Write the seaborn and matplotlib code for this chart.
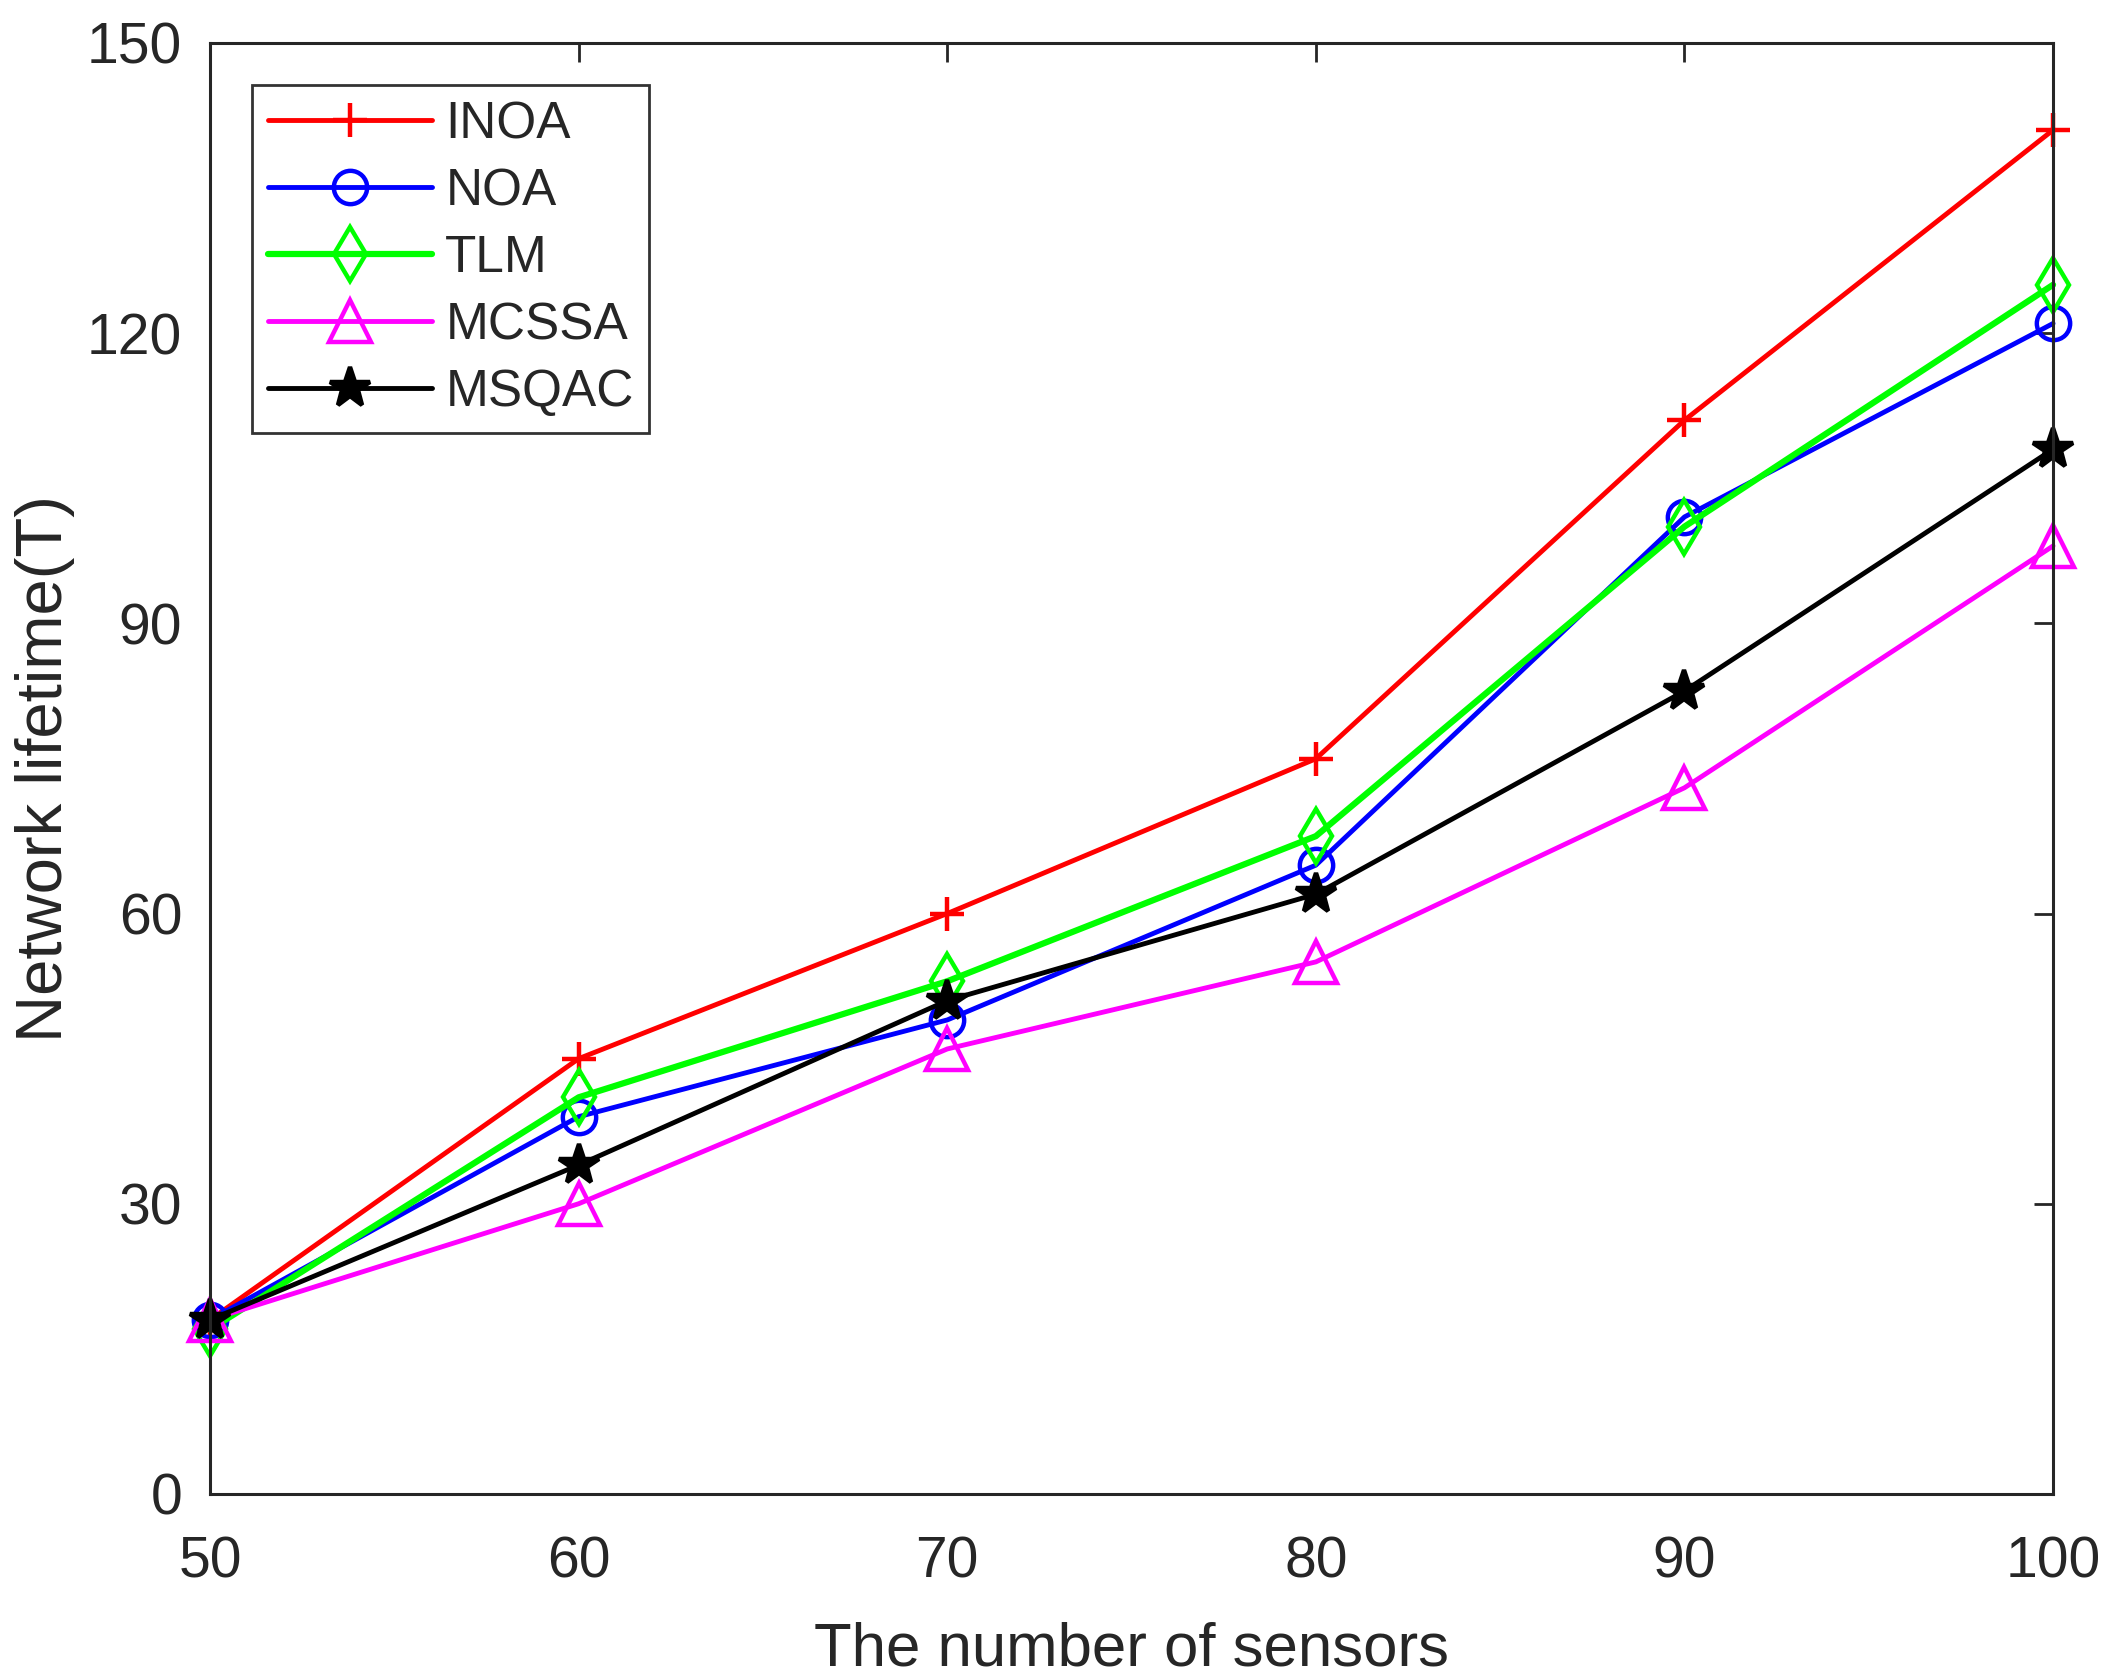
import matplotlib
matplotlib.use("Agg")
import matplotlib.pyplot as plt
import seaborn as sns
import pandas as pd

# sensors on x axis
sensors = [50, 60, 70, 80, 90, 100]

inoa = [18, 45, 60, 76, 111, 141]
noa = [18, 39, 49, 65, 101, 121]
tlm = [17, 41, 53, 68, 100, 125]
mcssa = [18, 30, 46, 55, 73, 98]
msqac = [18, 34, 51, 62, 83, 108]

series_names = ["INOA", "NOA", "TLM", "MCSSA", "MSQAC"]
series_vals = [inoa, noa, tlm, mcssa, msqac]

colors = ["#ff0000", "#0000ff", "#00ff00", "#ff00ff", "#000000"]
markers = ["+", "o", "d", "^", "*"]
msizes = [25, 24, 28, 30, 30]
lwidths = [3.5, 3.5, 4.5, 3.5, 3.5]

sns.set_style("white")
plt.rcParams["font.family"] = ["Liberation Sans", "DejaVu Sans"]

fig = plt.figure(figsize=(21.07, 16.78), dpi=100)
ax = fig.add_axes([0.0997, 0.1097, 0.8747, 0.8647])

for name, vals, c, m, ms, lw in zip(series_names, series_vals, colors, markers, msizes, lwidths):
    df = pd.DataFrame({"sensors": sensors, "lifetime": vals})
    face = c if m == "*" else "none"
    sns.lineplot(data=df, x="sensors", y="lifetime", ax=ax, color=c, label=name,
                 marker=m, markersize=ms, markerfacecolor=face, markeredgecolor=c,
                 markeredgewidth=3.2, linewidth=lw, clip_on=False)

ax.set_xlim(50, 100)
ax.set_ylim(0, 150)
ax.set_xticks(sensors)
ax.set_yticks([0, 30, 60, 90, 120, 150])

dark = "#262626"
for sp in ax.spines.values():
    sp.set_visible(True)
    sp.set_color(dark)
    sp.set_linewidth(2.2)
ax.tick_params(axis="both", direction="in", length=14, width=2.0, color=dark,
               labelsize=41, labelcolor=dark, top=True, right=True)
ax.tick_params(axis="x", pad=30)
ax.tick_params(axis="y", pad=20)

ax.set_xlabel("The number of sensors", fontsize=44.5, color=dark, labelpad=23)
ax.set_ylabel("Network lifetime(T)", fontsize=47, color=dark, labelpad=9)

leg = ax.legend(loc="upper left", bbox_to_anchor=(0.0228, 0.971), borderaxespad=0,
                fontsize=37, frameon=True, fancybox=False, edgecolor="black",
                handlelength=3.2, handletextpad=0.26, labelspacing=0.35,
                borderpad=0.3)
leg.get_frame().set_linewidth(2.0)

fig.savefig("out.png", dpi=100, facecolor="white")
